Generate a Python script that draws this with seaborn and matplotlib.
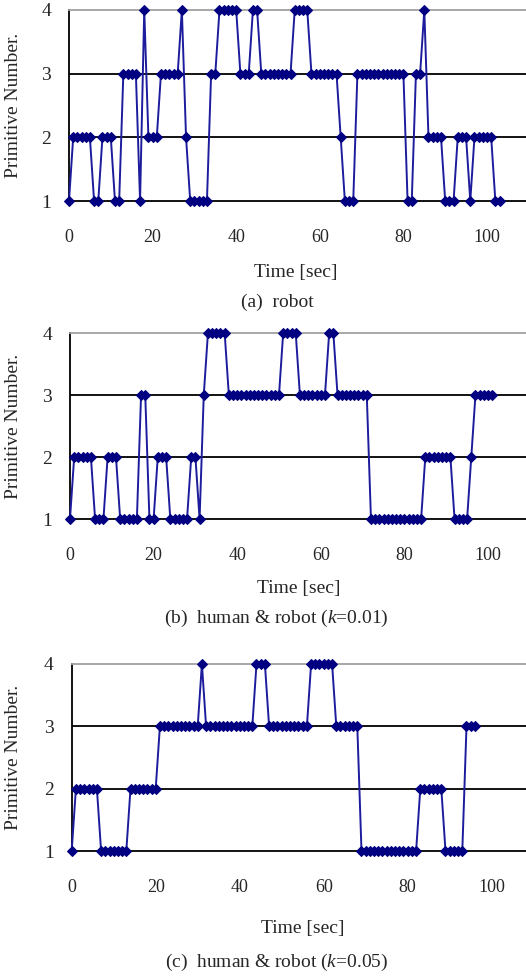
import numpy as np
import pandas as pd
import matplotlib
matplotlib.use("Agg")
import matplotlib.pyplot as plt
import seaborn as sns

prim_robot = [1, 2, 2, 2, 2, 2, 1, 1, 2, 2, 2, 1, 1, 3, 3, 3, 3, 1, 4, 2, 2, 2,
              3, 3, 3, 3, 3, 4, 2, 1, 1, 1, 1, 1, 3, 3, 4, 4, 4, 4, 4, 3, 3, 3,
              4, 4, 3, 3, 3, 3, 3, 3, 3, 3, 4, 4, 4, 4, 3, 3, 3, 3, 3, 3, 3, 2,
              1, 1, 1, 3, 3, 3, 3, 3, 3, 3, 3, 3, 3, 3, 3, 1, 1, 3, 3, 4, 2, 2,
              2, 2, 1, 1, 1, 2, 2, 2, 1, 2, 2, 2, 2, 2, 1, 1]
prim_k001 = [1, 2, 2, 2, 2, 2, 1, 1, 1, 2, 2, 2, 1, 1, 1, 1, 1, 3, 3, 1, 1, 2,
             2, 2, 1, 1, 1, 1, 1, 2, 2, 1, 3, 4, 4, 4, 4, 4, 3, 3, 3, 3, 3, 3,
             3, 3, 3, 3, 3, 3, 3, 4, 4, 4, 4, 3, 3, 3, 3, 3, 3, 3, 4, 4, 3, 3,
             3, 3, 3, 3, 3, 3, 1, 1, 1, 1, 1, 1, 1, 1, 1, 1, 1, 1, 1, 2, 2, 2,
             2, 2, 2, 2, 1, 1, 1, 1, 2, 3, 3, 3, 3, 3]
prim_k005 = [1, 2, 2, 2, 2, 2, 2, 1, 1, 1, 1, 1, 1, 1, 2, 2, 2, 2, 2, 2, 2, 3,
             3, 3, 3, 3, 3, 3, 3, 3, 3, 4, 3, 3, 3, 3, 3, 3, 3, 3, 3, 3, 3, 3,
             4, 4, 4, 3, 3, 3, 3, 3, 3, 3, 3, 3, 3, 4, 4, 4, 4, 4, 4, 3, 3, 3,
             3, 3, 3, 1, 1, 1, 1, 1, 1, 1, 1, 1, 1, 1, 1, 1, 1, 2, 2, 2, 2, 2,
             2, 1, 1, 1, 1, 1, 3, 3, 3]

captions = ["(a)  robot",
            "(b)  human & robot ($k$=0.01)",
            "(c)  human & robot ($k$=0.05)"]
x_ticks = [0, 20, 40, 60, 80, 100]
y_ticks = [1, 2, 3, 4]

sns.set_style("white")
plt.rcParams["font.family"] = ["Liberation Serif", "DejaVu Serif"]
plt.rcParams["mathtext.fontset"] = "custom"
plt.rcParams["mathtext.it"] = "Liberation Serif:italic"
plt.rcParams["mathtext.rm"] = "Liberation Serif"

W, H = 526, 976
fig = plt.figure(figsize=(W / 100, H / 100), dpi=100)

# pixel layout per panel: left edge of axis, px per second, top, bottom,
# position of x-label and caption
panels = [
    (prim_robot, 69, 4.18, 10, 201, 296, 272, 277, 302),
    (prim_k001, 70, 4.18, 333, 519, 299, 588, 276, 618),
    (prim_k005, 71.7, 4.20, 664, 851, 303, 928, 277, 962),
]

line_col = "#1c1c9c"

for (vals, left, pxs, top, bot, xl_x, xl_y, cap_x, cap_y), cap in zip(panels, captions):
    ax = fig.add_axes([left / W, 1 - bot / H, (W - left) / W, (bot - top) / H])
    df = pd.DataFrame({"Time": np.arange(len(vals), dtype=float), "Primitive": vals})
    sns.lineplot(data=df, x="Time", y="Primitive", ax=ax, color=line_col,
                 linewidth=1.4, marker="D", markersize=4.8,
                 markeredgecolor="#000080", markerfacecolor="#000080",
                 clip_on=False, zorder=3)
    ax.set_xlim(0, (W - left) / pxs)
    ax.set_ylim(1, 4)
    for yv in [2, 3]:
        ax.axhline(yv, color="black", lw=1.3, zorder=1)
    ax.spines["right"].set_visible(False)
    ax.spines["top"].set_color("#a0a0a0")
    ax.spines["top"].set_linewidth(1.3)
    for side in ["left", "bottom"]:
        ax.spines[side].set_color("black")
        ax.spines[side].set_linewidth(1.3)
    ax.set_xticks(x_ticks)
    ax.set_yticks(y_ticks)
    ax.tick_params(axis="x", direction="in", length=3, color="black",
                   pad=20, labelsize=13)
    ax.tick_params(axis="y", length=0, pad=13, labelsize=14)
    ax.set_xlabel("")
    ax.set_ylabel("Primitive Number.", fontsize=14)
    ax.yaxis.set_label_coords(-(left - 22) / (W - left), 0.5)
    fig.text(xl_x / W, 1 - xl_y / H, "Time [sec]", fontsize=14,
             ha="center", va="center")
    fig.text(cap_x / W, 1 - cap_y / H, cap, fontsize=14,
             ha="center", va="center")

fig.savefig("out.png", dpi=100)
